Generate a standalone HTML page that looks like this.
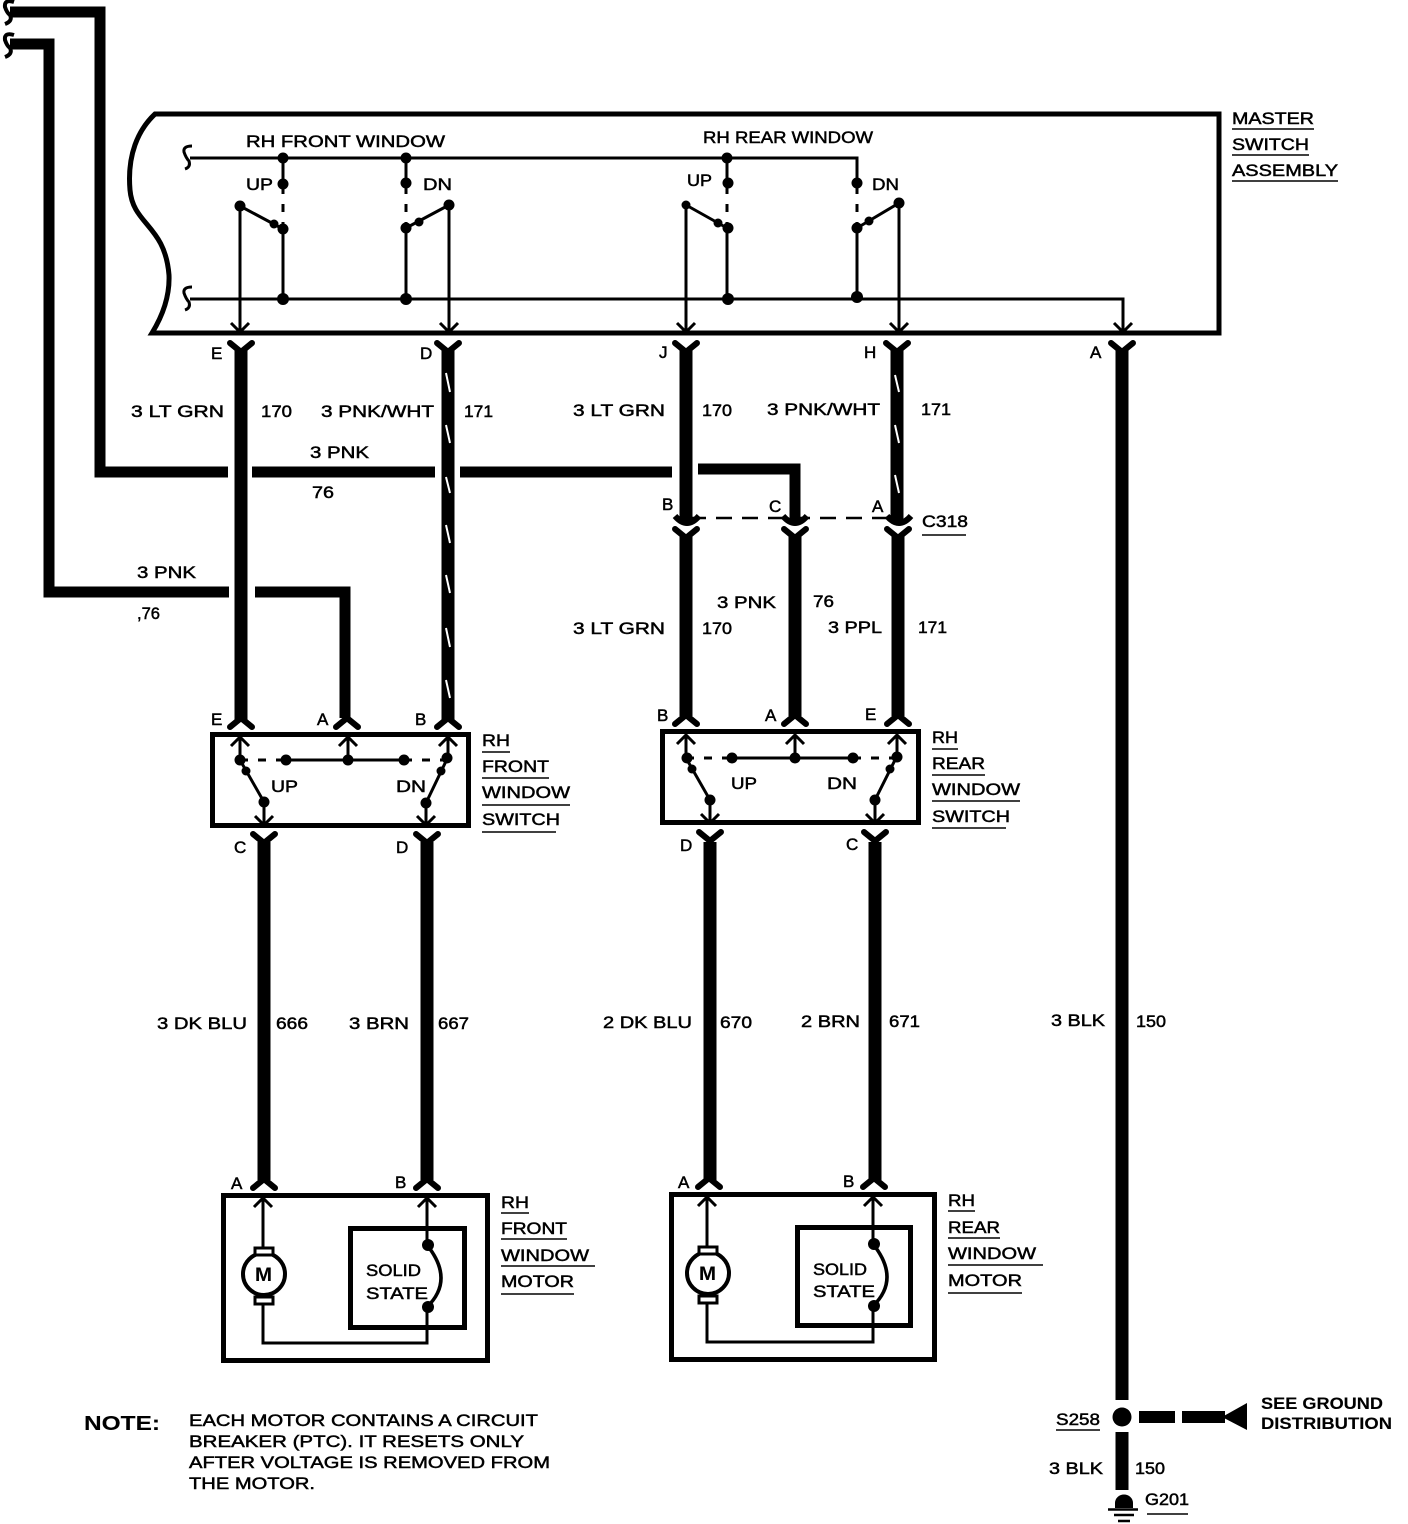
<!DOCTYPE html>
<html><head><meta charset="utf-8"><style>
html,body{margin:0;padding:0;background:#fff}
svg{display:block}
text{font-family:"Liberation Sans",sans-serif;font-size:17px;fill:#000;stroke:#000;stroke-width:.5}
.b{font-weight:bold;stroke-width:.1}
.w{fill:none;stroke:#000;stroke-linecap:butt;stroke-linejoin:miter}
</style></head><body>
<svg width="1408" height="1524" viewBox="0 0 1408 1524" xmlns="http://www.w3.org/2000/svg">
<defs>
<path id="fd" d="M-11-9L0 0L11-9" fill="none" stroke="#000" stroke-width="6" stroke-linecap="round"/>
<path id="fu" d="M-11 9L0 0L11 9" fill="none" stroke="#000" stroke-width="6" stroke-linecap="round"/>
<path id="ad" d="M-9-9L0 0L9-9" fill="none" stroke="#000" stroke-width="3"/>
<path id="au" d="M-9 9L0 0L9 9" fill="none" stroke="#000" stroke-width="3"/>
<path id="cup" d="M-12-6Q0 8 12-6" fill="none" stroke="#000" stroke-width="6"/>
<path id="sq" d="M5-12Q-4-12-3-6Q-1 0 2 3Q4 9-2 11" fill="none" stroke="#000" stroke-width="3"/>
<path id="sq2" d="M8-10Q-2-13-1-5Q1 1 4 3Q7 9-1 12" fill="none" stroke="#000" stroke-width="4"/>
</defs>

<!-- top feed wires -->
<g class="w" stroke-width="11">
<path d="M10 12H100V472H228" style="stroke-width:11"/>
<path d="M252 472H435" style="stroke-width:11"/>
<path d="M460 472H672" style="stroke-width:11"/>
<path d="M698 469H795V522" style="stroke-width:11"/>
<path d="M10 44H49V592H229" style="stroke-width:11"/>
<path d="M255 592H345V718" style="stroke-width:11"/>
</g>
<use href="#sq2" x="6" y="12"/><use href="#sq2" x="6" y="45"/>

<!-- master box -->
<path class="w" style="stroke-width:5" d="M155 114H1219V333H152C160 320 170 300 169 275C165 225 133 225 130 190C127 155 138 130 155 114Z"/>
<use href="#sq" x="187" y="158"/><use href="#sq" x="187" y="299"/>
<g class="w" style="stroke-width:3">
<path d="M190 158H857V182"/>
<path d="M190 299H1123V330"/>
<path d="M283 158V183M406 158V183M727 158V183"/>
<path d="M240 206V330M283 229V299M240 206L283 229"/>
<path d="M449 205V330M406 228V299M449 205L406 228"/>
<path d="M686 205V330M727 228V299M686 205L727 228"/>
<path d="M899 203V330M857 228V299M899 203L857 228"/>
<path d="M283 183V229M406 183V228M727 183V228M857 183V228" stroke-dasharray="11 10 8 10 7" style="stroke:#000"/>
</g>
<g>
<circle cx="283" cy="158" r="5.500"/><circle cx="406" cy="158" r="5.500"/><circle cx="727" cy="158" r="5.500"/>
<circle cx="283" cy="184" r="5.500"/><circle cx="406" cy="183" r="5.500"/><circle cx="728" cy="183" r="5.500"/><circle cx="857" cy="183" r="5.500"/>
<circle cx="240" cy="206" r="5.500"/><circle cx="283" cy="229" r="5.500"/><circle cx="274" cy="224" r="4.500"/>
<circle cx="449" cy="205" r="5.500"/><circle cx="406" cy="228" r="5.500"/><circle cx="419" cy="222" r="4.500"/>
<circle cx="686" cy="205" r="4.500"/><circle cx="728" cy="228" r="5.500"/><circle cx="718" cy="223" r="4.500"/>
<circle cx="899" cy="203" r="5.500"/><circle cx="857" cy="228" r="5.500"/><circle cx="869" cy="221" r="4.500"/>
<circle cx="283" cy="299" r="6"/><circle cx="406" cy="299" r="6"/><circle cx="728" cy="299" r="6"/><circle cx="857" cy="297" r="6"/>
</g>
<use href="#ad" x="240" y="332"/><use href="#ad" x="449" y="332"/><use href="#ad" x="686" y="332"/><use href="#ad" x="899" y="332"/><use href="#ad" x="1123" y="332"/>

<!-- thick wires -->
<g class="w" style="stroke-width:13">
<path d="M241 350V720"/>
<path d="M448 350V720"/>
<path d="M686 350V522"/>
<path d="M897 350V522"/>
<path d="M1122 350V1400"/>
<path d="M1122 1432V1490"/>
<path d="M686 536V716"/>
<path d="M795 536V716"/>
<path d="M898 536V716"/>
<path d="M264 842V1180"/>
<path d="M427 842V1180"/>
<path d="M710 842V1180"/>
<path d="M875 842V1180"/>
</g>
<path d="M446 373L450 392M446 425L450 443M446 477L450 493M446 525L450 543M446 575L450 593M446 628L450 647M446 680L450 698M895 375L899 392M895 425L899 443M895 475L899 493" fill="none" stroke="#fff" stroke-width="2"/>

<use href="#fd" x="241" y="352"/><use href="#fd" x="448" y="352"/><use href="#fd" x="686" y="352"/><use href="#fd" x="897" y="352"/><use href="#fd" x="1122" y="352"/>

<!-- C318 -->
<path d="M690 518H900" fill="none" stroke="#000" stroke-width="2.500" stroke-dasharray="16 10"/>
<use href="#cup" x="687" y="522"/><use href="#cup" x="795" y="522"/><use href="#cup" x="899" y="522"/>
<use href="#fd" x="686" y="538"/><use href="#fd" x="795" y="538"/><use href="#fd" x="898" y="538"/>

<!-- connectors at switch -->
<use href="#fu" x="241" y="718"/><use href="#fu" x="347" y="718"/><use href="#fu" x="448" y="718"/>
<use href="#fu" x="686" y="715"/><use href="#fu" x="795" y="715"/><use href="#fu" x="898" y="715"/>

<!-- front switch -->
<rect x="212.500" y="734.500" width="256" height="91" fill="none" stroke="#000" stroke-width="5"/>
<g class="w" style="stroke-width:3">
<path d="M240 738V760M348 738V760M448 738V757M286 760H404M240 760L264 802V824M448 757L426 803V824"/>
<path d="M240 760H286M404 760H447" stroke-dasharray="8 10"/>
</g>
<use href="#au" x="240" y="737"/><use href="#au" x="348" y="737"/><use href="#au" x="448" y="737"/>
<use href="#ad" x="264" y="825"/><use href="#ad" x="426" y="825"/>
<circle cx="240" cy="760" r="5.500"/><circle cx="286" cy="760" r="5.500"/><circle cx="348" cy="760" r="5.500"/><circle cx="404" cy="760" r="5.500"/><circle cx="447" cy="758" r="5.500"/><circle cx="264" cy="802" r="5.500"/><circle cx="426" cy="803" r="5.500"/><circle cx="246" cy="771" r="4.500"/><circle cx="441" cy="771" r="4.500"/>

<!-- rear switch -->
<rect x="662.500" y="731.500" width="256" height="91" fill="none" stroke="#000" stroke-width="5"/>
<g class="w" style="stroke-width:3">
<path d="M686 735V758M795 735V758M897 735V756M732 758H853M686 758L710 800V822M897 756L875 800V822"/>
<path d="M686 758H732M853 758H897" stroke-dasharray="8 10"/>
</g>
<use href="#au" x="686" y="735"/><use href="#au" x="795" y="735"/><use href="#au" x="897" y="735"/>
<use href="#ad" x="710" y="823"/><use href="#ad" x="875" y="823"/>
<circle cx="687" cy="758" r="5.500"/><circle cx="732" cy="758" r="5.500"/><circle cx="795" cy="758" r="5.500"/><circle cx="853" cy="758" r="5.500"/><circle cx="897" cy="757" r="5.500"/><circle cx="710" cy="800" r="5.500"/><circle cx="875" cy="800" r="5.500"/><circle cx="692" cy="769" r="4.500"/><circle cx="890" cy="769" r="4.500"/>

<use href="#fd" x="264" y="843"/><use href="#fd" x="427" y="843"/><use href="#fd" x="710" y="841"/><use href="#fd" x="875" y="841"/>
<use href="#fu" x="264" y="1179"/><use href="#fu" x="427" y="1179"/><use href="#fu" x="709" y="1178"/><use href="#fu" x="874" y="1178"/>

<!-- front motor -->
<rect x="223.500" y="1195.500" width="264" height="165" fill="none" stroke="#000" stroke-width="5"/>
<rect x="350.500" y="1228.500" width="114" height="99" fill="none" stroke="#000" stroke-width="5"/>
<g class="w" style="stroke-width:3">
<path d="M263 1198V1247M263 1304V1343H427V1307M427 1198V1245"/>
<path d="M427 1245Q455 1280 427 1307" style="stroke-width:3.500"/>
<circle cx="264" cy="1274" r="21" style="stroke-width:4;fill:#fff"/>
<rect x="255" y="1248" width="18" height="7" style="fill:#fff"/>
<rect x="255" y="1297" width="18" height="7" style="fill:#fff"/>
</g>
<use href="#au" x="263" y="1198"/><use href="#au" x="427" y="1198"/>
<circle cx="428" cy="1245" r="6"/><circle cx="428" cy="1307" r="6"/>

<!-- rear motor -->
<rect x="671.500" y="1194.500" width="263" height="165" fill="none" stroke="#000" stroke-width="5"/>
<rect x="797.500" y="1227.500" width="113" height="98" fill="none" stroke="#000" stroke-width="5"/>
<g class="w" style="stroke-width:3">
<path d="M707 1197V1246M707 1303V1342H873V1306M873 1197V1244"/>
<path d="M873 1244Q901 1279 873 1306" style="stroke-width:3.500"/>
<circle cx="708" cy="1273" r="21" style="stroke-width:4;fill:#fff"/>
<rect x="699" y="1247" width="18" height="7" style="fill:#fff"/>
<rect x="699" y="1296" width="18" height="7" style="fill:#fff"/>
</g>
<use href="#au" x="707" y="1197"/><use href="#au" x="873" y="1197"/>
<circle cx="874" cy="1244" r="6"/><circle cx="874" cy="1306" r="6"/>

<!-- ground -->
<circle cx="1122" cy="1417" r="9.500"/>
<rect x="1139" y="1411" width="36" height="12"/><rect x="1182" y="1411" width="43" height="12"/>
<path d="M1222 1417L1247 1403V1430Z"/>
<path d="M1115 1508V1503A8.500 8 0 0 1 1133 1503V1508Z"/>
<path d="M1108 1509.500H1138M1114 1515H1134M1118 1521H1130" stroke="#000" stroke-width="2.500" fill="none"/>

<!-- underlines -->
<path fill="none" stroke="#000" stroke-width="1.500" d="M1232 129H1314M1232 155H1309M1232 181H1338M922 535H966M482 752H510M482 778H549M482 805H570M482 832H556M932 749H958M932 775H985M932 801H1020M932 828H1006M501 1213H529M501 1239H567M501 1266H595M501 1294H574M948 1211H975M948 1238H1000M948 1265H1043M948 1293H1022M1056 1430H1100M1147 1514H1188"/>

<!-- labels -->
<text x="246" y="147" textLength="199" lengthAdjust="spacingAndGlyphs">RH FRONT WINDOW</text>
<text x="703" y="143" textLength="170" lengthAdjust="spacingAndGlyphs">RH REAR WINDOW</text>
<text x="1232" y="124" textLength="82" lengthAdjust="spacingAndGlyphs">MASTER</text>
<text x="1232" y="150" textLength="77" lengthAdjust="spacingAndGlyphs">SWITCH</text>
<text x="1232" y="176" textLength="106" lengthAdjust="spacingAndGlyphs">ASSEMBLY</text>
<text x="246" y="190" textLength="27" lengthAdjust="spacingAndGlyphs">UP</text>
<text x="423" y="190" textLength="29" lengthAdjust="spacingAndGlyphs">DN</text>
<text x="687" y="186" textLength="25" lengthAdjust="spacingAndGlyphs">UP</text>
<text x="872" y="190" textLength="27" lengthAdjust="spacingAndGlyphs">DN</text>
<text x="211" y="359">E</text><text x="420" y="359">D</text><text x="659" y="358">J</text><text x="864" y="358">H</text><text x="1090" y="358">A</text>
<text x="131" y="417" textLength="93" lengthAdjust="spacingAndGlyphs">3 LT GRN</text>
<text x="261" y="417" textLength="31" lengthAdjust="spacingAndGlyphs">170</text>
<text x="321" y="417" textLength="113" lengthAdjust="spacingAndGlyphs">3 PNK/WHT</text>
<text x="464" y="417" textLength="29" lengthAdjust="spacingAndGlyphs">171</text>
<text x="573" y="416" textLength="92" lengthAdjust="spacingAndGlyphs">3 LT GRN</text>
<text x="702" y="416" textLength="30" lengthAdjust="spacingAndGlyphs">170</text>
<text x="767" y="415" textLength="113" lengthAdjust="spacingAndGlyphs">3 PNK/WHT</text>
<text x="921" y="415" textLength="30" lengthAdjust="spacingAndGlyphs">171</text>
<text x="310" y="458" textLength="59" lengthAdjust="spacingAndGlyphs">3 PNK</text>
<text x="312" y="498" textLength="22" lengthAdjust="spacingAndGlyphs">76</text>
<text x="137" y="578" textLength="59" lengthAdjust="spacingAndGlyphs">3 PNK</text>
<text x="137" y="619" textLength="23" lengthAdjust="spacingAndGlyphs">,76</text>
<text x="662" y="510">B</text><text x="769" y="512">C</text><text x="872" y="512">A</text>
<text x="922" y="527" textLength="46" lengthAdjust="spacingAndGlyphs">C318</text>
<text x="717" y="608" textLength="59" lengthAdjust="spacingAndGlyphs">3 PNK</text>
<text x="813" y="607" textLength="21" lengthAdjust="spacingAndGlyphs">76</text>
<text x="573" y="634" textLength="92" lengthAdjust="spacingAndGlyphs">3 LT GRN</text>
<text x="702" y="634" textLength="30" lengthAdjust="spacingAndGlyphs">170</text>
<text x="828" y="633" textLength="54" lengthAdjust="spacingAndGlyphs">3 PPL</text>
<text x="918" y="633" textLength="29" lengthAdjust="spacingAndGlyphs">171</text>
<text x="211" y="725">E</text><text x="317" y="725">A</text><text x="415" y="725">B</text>
<text x="657" y="721">B</text><text x="765" y="721">A</text><text x="865" y="720">E</text>
<text x="482" y="746" textLength="28" lengthAdjust="spacingAndGlyphs">RH</text>
<text x="482" y="772" textLength="67" lengthAdjust="spacingAndGlyphs">FRONT</text>
<text x="482" y="798" textLength="88" lengthAdjust="spacingAndGlyphs">WINDOW</text>
<text x="482" y="825" textLength="78" lengthAdjust="spacingAndGlyphs">SWITCH</text>
<text x="932" y="743" textLength="26" lengthAdjust="spacingAndGlyphs">RH</text>
<text x="932" y="769" textLength="53" lengthAdjust="spacingAndGlyphs">REAR</text>
<text x="932" y="795" textLength="88" lengthAdjust="spacingAndGlyphs">WINDOW</text>
<text x="932" y="822" textLength="78" lengthAdjust="spacingAndGlyphs">SWITCH</text>
<text x="271" y="792" textLength="27" lengthAdjust="spacingAndGlyphs">UP</text>
<text x="396" y="792" textLength="30" lengthAdjust="spacingAndGlyphs">DN</text>
<text x="731" y="789" textLength="26" lengthAdjust="spacingAndGlyphs">UP</text>
<text x="827" y="789" textLength="30" lengthAdjust="spacingAndGlyphs">DN</text>
<text x="234" y="853">C</text><text x="396" y="853">D</text><text x="680" y="851">D</text><text x="846" y="850">C</text>
<text x="157" y="1029" textLength="90" lengthAdjust="spacingAndGlyphs">3 DK BLU</text>
<text x="276" y="1029" textLength="32" lengthAdjust="spacingAndGlyphs">666</text>
<text x="349" y="1029" textLength="60" lengthAdjust="spacingAndGlyphs">3 BRN</text>
<text x="438" y="1029" textLength="31" lengthAdjust="spacingAndGlyphs">667</text>
<text x="603" y="1028" textLength="89" lengthAdjust="spacingAndGlyphs">2 DK BLU</text>
<text x="720" y="1028" textLength="32" lengthAdjust="spacingAndGlyphs">670</text>
<text x="801" y="1027" textLength="59" lengthAdjust="spacingAndGlyphs">2 BRN</text>
<text x="889" y="1027" textLength="31" lengthAdjust="spacingAndGlyphs">671</text>
<text x="1051" y="1026" textLength="54" lengthAdjust="spacingAndGlyphs">3 BLK</text>
<text x="1136" y="1027" textLength="30" lengthAdjust="spacingAndGlyphs">150</text>
<text x="231" y="1189">A</text><text x="395" y="1188">B</text><text x="678" y="1188">A</text><text x="843" y="1187">B</text>
<text x="501" y="1208" textLength="28" lengthAdjust="spacingAndGlyphs">RH</text>
<text x="501" y="1234" textLength="66" lengthAdjust="spacingAndGlyphs">FRONT</text>
<text x="501" y="1261" textLength="88" lengthAdjust="spacingAndGlyphs">WINDOW</text>
<text x="501" y="1287" textLength="73" lengthAdjust="spacingAndGlyphs">MOTOR</text>
<text x="948" y="1206" textLength="27" lengthAdjust="spacingAndGlyphs">RH</text>
<text x="948" y="1233" textLength="52" lengthAdjust="spacingAndGlyphs">REAR</text>
<text x="948" y="1259" textLength="88" lengthAdjust="spacingAndGlyphs">WINDOW</text>
<text x="948" y="1286" textLength="74" lengthAdjust="spacingAndGlyphs">MOTOR</text>
<text x="366" y="1276" textLength="55" lengthAdjust="spacingAndGlyphs">SOLID</text>
<text x="366" y="1299" textLength="62" lengthAdjust="spacingAndGlyphs">STATE</text>
<text x="813" y="1275" textLength="54" lengthAdjust="spacingAndGlyphs">SOLID</text>
<text x="813" y="1297" textLength="62" lengthAdjust="spacingAndGlyphs">STATE</text>
<text class="b" x="255" y="1281" textLength="17" lengthAdjust="spacingAndGlyphs" style="font-size:19px">M</text>
<text class="b" x="699" y="1280" textLength="17" lengthAdjust="spacingAndGlyphs" style="font-size:19px">M</text>
<text class="b" x="84" y="1430" textLength="76" lengthAdjust="spacingAndGlyphs" style="font-size:20px">NOTE:</text>
<text x="189" y="1426" textLength="349" lengthAdjust="spacingAndGlyphs">EACH MOTOR CONTAINS A CIRCUIT</text>
<text x="189" y="1447" textLength="335" lengthAdjust="spacingAndGlyphs">BREAKER (PTC). IT RESETS ONLY</text>
<text x="189" y="1468" textLength="361" lengthAdjust="spacingAndGlyphs">AFTER VOLTAGE IS REMOVED FROM</text>
<text x="189" y="1489" textLength="126" lengthAdjust="spacingAndGlyphs">THE MOTOR.</text>
<text x="1056" y="1425" textLength="44" lengthAdjust="spacingAndGlyphs">S258</text>
<text x="1049" y="1474" textLength="54" lengthAdjust="spacingAndGlyphs">3 BLK</text>
<text x="1135" y="1474" textLength="30" lengthAdjust="spacingAndGlyphs">150</text>
<text x="1145" y="1505" textLength="44" lengthAdjust="spacingAndGlyphs">G201</text>
<text class="b" x="1261" y="1409" textLength="122" lengthAdjust="spacingAndGlyphs">SEE GROUND</text>
<text class="b" x="1261" y="1429" textLength="131" lengthAdjust="spacingAndGlyphs">DISTRIBUTION</text>
</svg>
</body></html>
